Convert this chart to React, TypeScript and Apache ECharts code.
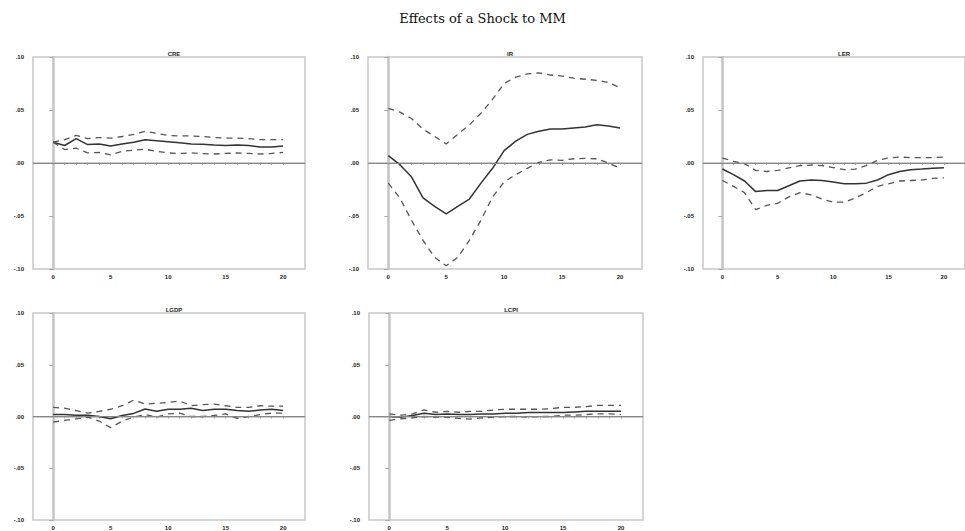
import React, { useEffect, useRef } from "react";
import * as echarts from "echarts";

const periods = [0, 1, 2, 3, 4, 5, 6, 7, 8, 9, 10, 11, 12, 13, 14, 15, 16, 17, 18, 19, 20];
const xTickLabels = [0, 5, 10, 15, 20];
const yTicks = [-0.1, -0.05, 0, 0.05, 0.1];
const panelTitles = ["CRE", "IR", "LER", "LGDP", "LCPI"];
const mainTitle = "Effects of a Shock to MM";

// Panel 1
const creResp = [0.0196, 0.0165, 0.023, 0.0174, 0.018, 0.016, 0.018, 0.0196, 0.022, 0.021, 0.02, 0.019, 0.018, 0.0177, 0.017, 0.0165, 0.017, 0.0165, 0.015, 0.015, 0.016];
const creUpper = [0.0196, 0.022, 0.026, 0.023, 0.024, 0.0235, 0.025, 0.027, 0.03, 0.028, 0.026, 0.0255, 0.0255, 0.025, 0.024, 0.0235, 0.0235, 0.023, 0.022, 0.022, 0.022];
const creLower = [0.0196, 0.0127, 0.014, 0.0095, 0.01, 0.0076, 0.011, 0.012, 0.013, 0.011, 0.0095, 0.009, 0.0095, 0.0089, 0.0085, 0.009, 0.0095, 0.009, 0.0085, 0.009, 0.01];
// Panel 2
const irResp = [0.007, -0.0016, -0.013, -0.033, -0.041, -0.048, -0.041, -0.034, -0.019, -0.005, 0.0117, 0.0206, 0.027, 0.03, 0.032, 0.032, 0.033, 0.034, 0.036, 0.035, 0.033];
const irUpper = [0.0516, 0.048, 0.042, 0.032, 0.025, 0.018, 0.027, 0.036, 0.047, 0.06, 0.075, 0.081, 0.084, 0.085, 0.083, 0.082, 0.08, 0.079, 0.078, 0.076, 0.071];
const irLower = [-0.019, -0.033, -0.054, -0.073, -0.089, -0.097, -0.089, -0.073, -0.054, -0.032, -0.018, -0.011, -0.005, 0.0006, 0.003, 0.0025, 0.004, 0.0044, 0.004, 0.0, -0.005];
// Panel 3
const lerResp = [-0.0057, -0.011, -0.017, -0.027, -0.026, -0.026, -0.0215, -0.017, -0.016, -0.0165, -0.018, -0.0196, -0.0196, -0.019, -0.016, -0.011, -0.008, -0.0063, -0.0057, -0.005, -0.0044];
const lerUpper = [0.0047, 0.0016, -0.0006, -0.007, -0.008, -0.007, -0.0047, -0.0025, -0.002, -0.0025, -0.0044, -0.0063, -0.0057, -0.0025, 0.0025, 0.0047, 0.0057, 0.005, 0.005, 0.005, 0.0057];
const lerLower = [-0.0165, -0.022, -0.028, -0.044, -0.04, -0.038, -0.032, -0.028, -0.03, -0.034, -0.037, -0.037, -0.033, -0.028, -0.022, -0.0196, -0.017, -0.0165, -0.016, -0.0146, -0.014];
// Panel 4
const lgdpResp = [0.002, 0.002, 0.0013, 0.0013, 0.0, -0.0022, 0.001, 0.003, 0.0073, 0.005, 0.007, 0.007, 0.008, 0.0057, 0.007, 0.007, 0.0057, 0.005, 0.0063, 0.007, 0.0057];
const lgdpUpper = [0.0089, 0.008, 0.0057, 0.0032, 0.005, 0.007, 0.0104, 0.0158, 0.012, 0.0127, 0.0136, 0.015, 0.0104, 0.0114, 0.012, 0.0104, 0.0089, 0.0089, 0.0104, 0.01, 0.01];
const lgdpLower = [-0.0054, -0.0038, -0.0022, -0.0006, -0.0044, -0.0108, -0.0044, -0.0006, 0.0019, -0.0006, 0.0025, 0.0032, 0.0, 0.0, 0.001, 0.0025, -0.0019, 0.0, 0.0019, 0.0032, 0.0032];
// Panel 5
const lcpiResp = [0.0, -0.0006, 0.001, 0.0032, 0.0019, 0.0025, 0.0019, 0.0019, 0.0025, 0.0025, 0.0032, 0.0032, 0.0038, 0.0038, 0.0038, 0.0038, 0.0044, 0.005, 0.005, 0.005, 0.005];
const lcpiUpper = [0.0025, 0.0013, 0.0025, 0.0063, 0.0041, 0.005, 0.0041, 0.005, 0.005, 0.0063, 0.007, 0.007, 0.007, 0.007, 0.0076, 0.0089, 0.0089, 0.0095, 0.0108, 0.0108, 0.0108];
const lcpiLower = [-0.0038, -0.0022, -0.0013, 0.0, -0.0006, -0.0006, -0.0019, -0.0025, -0.0013, -0.0006, 0.0, 0.0, -0.0006, 0.0, 0.0, 0.0013, 0.0013, 0.0019, 0.0025, 0.0025, 0.0019];

const panels = [
  { resp: creResp, upper: creUpper, lower: creLower },
  { resp: irResp, upper: irUpper, lower: irLower },
  { resp: lerResp, upper: lerUpper, lower: lerLower },
  { resp: lgdpResp, upper: lgdpUpper, lower: lgdpLower },
  { resp: lcpiResp, upper: lcpiUpper, lower: lcpiLower },
];

const grids = [
  { left: 33, top: 57, width: 272, height: 212 },
  { left: 368, top: 57, width: 274, height: 212 },
  { left: 703, top: 57, width: 272, height: 212 },
  { left: 33, top: 313, width: 272, height: 211 },
  { left: 369, top: 313, width: 274, height: 211 },
];

const fmtY = (v: number) => {
  const s = Math.abs(v).toFixed(2).replace(/^0/, "");
  return (v < -1e-9 ? "-" : "") + s;
};

export default function App() {
  const ref = useRef<HTMLDivElement>(null);
  useEffect(() => {
    if (!ref.current) return;
    const chart = echarts.init(ref.current, null, { renderer: "svg" });
    const pair = (arr: number[]) => periods.map((p, i) => [p, arr[i]]);
    const series: any[] = [];
    panels.forEach((p, i) => {
      series.push({
        type: "line",
        xAxisIndex: i,
        yAxisIndex: i,
        data: pair(p.resp),
        symbol: "none",
        lineStyle: { color: "#333", width: 1.5 },
        markLine: {
          silent: true,
          symbol: "none",
          label: { show: false },
          lineStyle: { color: "#888", width: 1, type: "solid" },
          data: [{ yAxis: 0 }],
        },
      });
      series.push({
        type: "line",
        xAxisIndex: i,
        yAxisIndex: i,
        data: pair(p.upper),
        symbol: "none",
        lineStyle: { color: "#555", width: 1.3, type: [6, 5] },
      });
      series.push({
        type: "line",
        xAxisIndex: i,
        yAxisIndex: i,
        data: pair(p.lower),
        symbol: "none",
        lineStyle: { color: "#555", width: 1.3, type: [6, 5] },
      });
    });
    const titles: any[] = [
      {
        text: mainTitle,
        left: "center",
        top: 7,
        textStyle: { fontFamily: "DejaVu Serif", fontSize: 13, fontWeight: "normal", color: "#111" },
      },
    ];
    grids.forEach((g, i) => {
      titles.push({
        text: panelTitles[i],
        left: g.left + g.width / 2,
        top: g.top - 11,
        textAlign: "center",
        textStyle: { fontFamily: "Liberation Sans", fontSize: 6, fontWeight: "bold", color: "#222" },
      });
    });
    chart.setOption({
      animation: false,
      backgroundColor: "#fff",
      title: titles,
      grid: grids.map((g) => ({ ...g, show: true, borderColor: "#c8c8c8", borderWidth: 1.5, backgroundColor: "transparent" })),
      xAxis: grids.map((_, i) => ({
        type: "value",
        gridIndex: i,
        min: -1.75,
        max: 21.9,
        splitLine: { show: false },
        axisLine: { show: true, lineStyle: { color: "#bbb", width: 1.5 } },
        axisTick: { show: true, length: 2, lineStyle: { color: "#aaa" }, customValues: periods },
        axisLabel: {
          customValues: xTickLabels,
          fontSize: 6,
          fontWeight: "bold",
          color: "#222",
          margin: 5,
          fontFamily: "Liberation Sans",
        },
      })),
      yAxis: grids.map((_, i) => ({
        type: "value",
        gridIndex: i,
        min: -0.1,
        max: 0.1,
        interval: 0.05,
        splitLine: { show: false },
        axisLine: { show: true, lineStyle: { color: "#c4c4c4", width: 2.5 } },
        axisTick: { show: true, length: 4, lineStyle: { color: "#aaa" }, customValues: yTicks },
        axisLabel: {
          formatter: fmtY,
          fontSize: 6,
          fontWeight: "bold",
          color: "#222",
          margin: 9,
          fontFamily: "Liberation Sans",
        },
      })),
      series,
    });
    return () => chart.dispose();
  }, []);
  return (
    <div
      ref={ref}
      style={{ position: "fixed", left: 0, top: 0, width: 965, height: 531, background: "#fff" }}
    />
  );
}
